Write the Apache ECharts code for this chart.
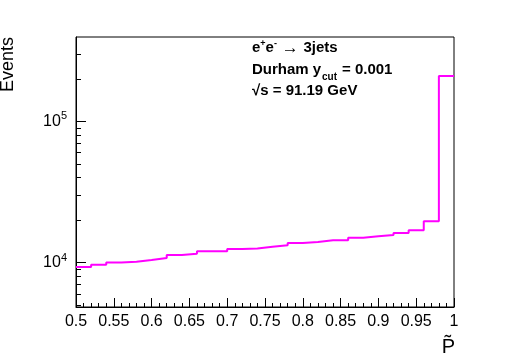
<!DOCTYPE html>
<html>
<head>
<meta charset="utf-8">
<script src="https://cdn.jsdelivr.net/npm/echarts@6/dist/echarts.min.js"></script>
<style>
html,body{margin:0;padding:0;background:#fff;}
#main{width:505px;height:364px;}
</style>
</head>
<body>
<div id="main"></div>
<script>
// bin edges (low edge of each bin), width 0.02
var binEdges = [0.50,0.52,0.54,0.56,0.58,0.60,0.62,0.64,0.66,0.68,0.70,0.72,0.74,0.76,0.78,0.80,0.82,0.84,0.86,0.88,0.90,0.92,0.94,0.96,0.98];
var lastEdge = 1.0;
// events per bin
var events = [9310,9670,10000,10160,10440,10780,11330,11570,12020,12020,12490,12600,12970,13250,13760,14000,14380,14380,15020,15350,15680,16200,16930,19600,209400];
var xTicks = [0.5,0.55,0.6,0.65,0.7,0.75,0.8,0.85,0.9,0.95,1];
var yMinor = [5000,6000,7000,8000,9000,20000,30000,40000,50000,60000,70000,80000,90000,200000,300000];

var stepData = [];
for (var i=0;i<binEdges.length;i++){
    stepData.push([binEdges[i],events[i]]);
}
stepData.push([lastEdge,events[events.length-1]]);

var font = 'Liberation Sans';
var myChart = echarts.init(document.getElementById('main'));
var option = {
    animation:false,
    grid:{left:76,right:51,top:37,bottom:57,show:true,borderColor:'#000',borderWidth:1,backgroundColor:'#fff'},
    xAxis:{
        type:'value',min:0.5,max:1,interval:0.05,
        axisLine:{lineStyle:{color:'#000',width:1}},
        axisTick:{inside:true,length:9,lineStyle:{color:'#000'}},
        minorTick:{show:true,splitNumber:5,length:4,lineStyle:{color:'#000'}},
        splitLine:{show:false},
        axisLabel:{color:'#000',fontFamily:font,fontSize:16,margin:7,
            formatter:function(v){return String(Math.round(v*100)/100);}}
    },
    yAxis:[{
        type:'log',logBase:10,min:4850,max:396000,
        axisLine:{lineStyle:{color:'#000',width:1}},
        axisTick:{inside:true,length:10,lineStyle:{color:'#000'}},
        splitLine:{show:false},
        axisLabel:{color:'#000',fontFamily:font,fontSize:16,margin:9,showMinLabel:false,showMaxLabel:false,
            formatter:function(v){return '10{sup|'+Math.round(Math.log10(v))+'}';},
            rich:{sup:{fontFamily:font,fontSize:11,verticalAlign:'top',padding:[0,0,10,0]}}}
    },{
        type:'log',logBase:10,min:4850,max:396000,position:'left',
        axisLine:{show:false},
        axisTick:{inside:true,length:5,customValues:yMinor,lineStyle:{color:'#000'}},
        splitLine:{show:false},
        axisLabel:{show:false}
    }],
    graphic:[
        {type:'text',x:17,y:37,rotation:Math.PI/2,
         style:{text:'Events',font:'18px "Liberation Sans"',fill:'#000',align:'right',verticalAlign:'bottom'}},
        {type:'text',x:455,y:347,
         style:{text:'P\u0303',font:'20px "Liberation Sans"',fill:'#000',align:'right',verticalAlign:'middle'}},
        {type:'text',x:252,y:48,
         style:{rich:{b:{fontFamily:font,fontWeight:'bold',fontSize:15},s:{fontFamily:font,fontWeight:'bold',fontSize:9,verticalAlign:'top',padding:[0,0,8,0]},a:{fontFamily:font,fontSize:17}},
                text:'{b|e}{s|+}{b|e}{s|-}{a| \u2192 }{b|3jets}',fill:'#000',verticalAlign:'middle'}},
        {type:'text',x:252,y:70,
         style:{text:'Durham y',font:'bold 15px "Liberation Sans"',fill:'#000',verticalAlign:'middle'}},
        {type:'text',x:322,y:77,
         style:{text:'cut',font:'bold 10px "Liberation Sans"',fill:'#000',verticalAlign:'middle'}},
        {type:'text',x:342,y:70,
         style:{text:'= 0.001',font:'bold 15px "Liberation Sans"',fill:'#000',verticalAlign:'middle'}},
        {type:'text',x:252,y:91,
         style:{text:'\u221As = 91.19 GeV',font:'bold 15px "Liberation Sans"',fill:'#000',verticalAlign:'middle'}}
    ],
    series:[{
        type:'line',step:'end',symbol:'none',
        data:stepData,
        lineStyle:{color:'#ff00ff',width:2},
        itemStyle:{color:'#ff00ff'}
    }]
};
myChart.setOption(option);
</script>
</body>
</html>
